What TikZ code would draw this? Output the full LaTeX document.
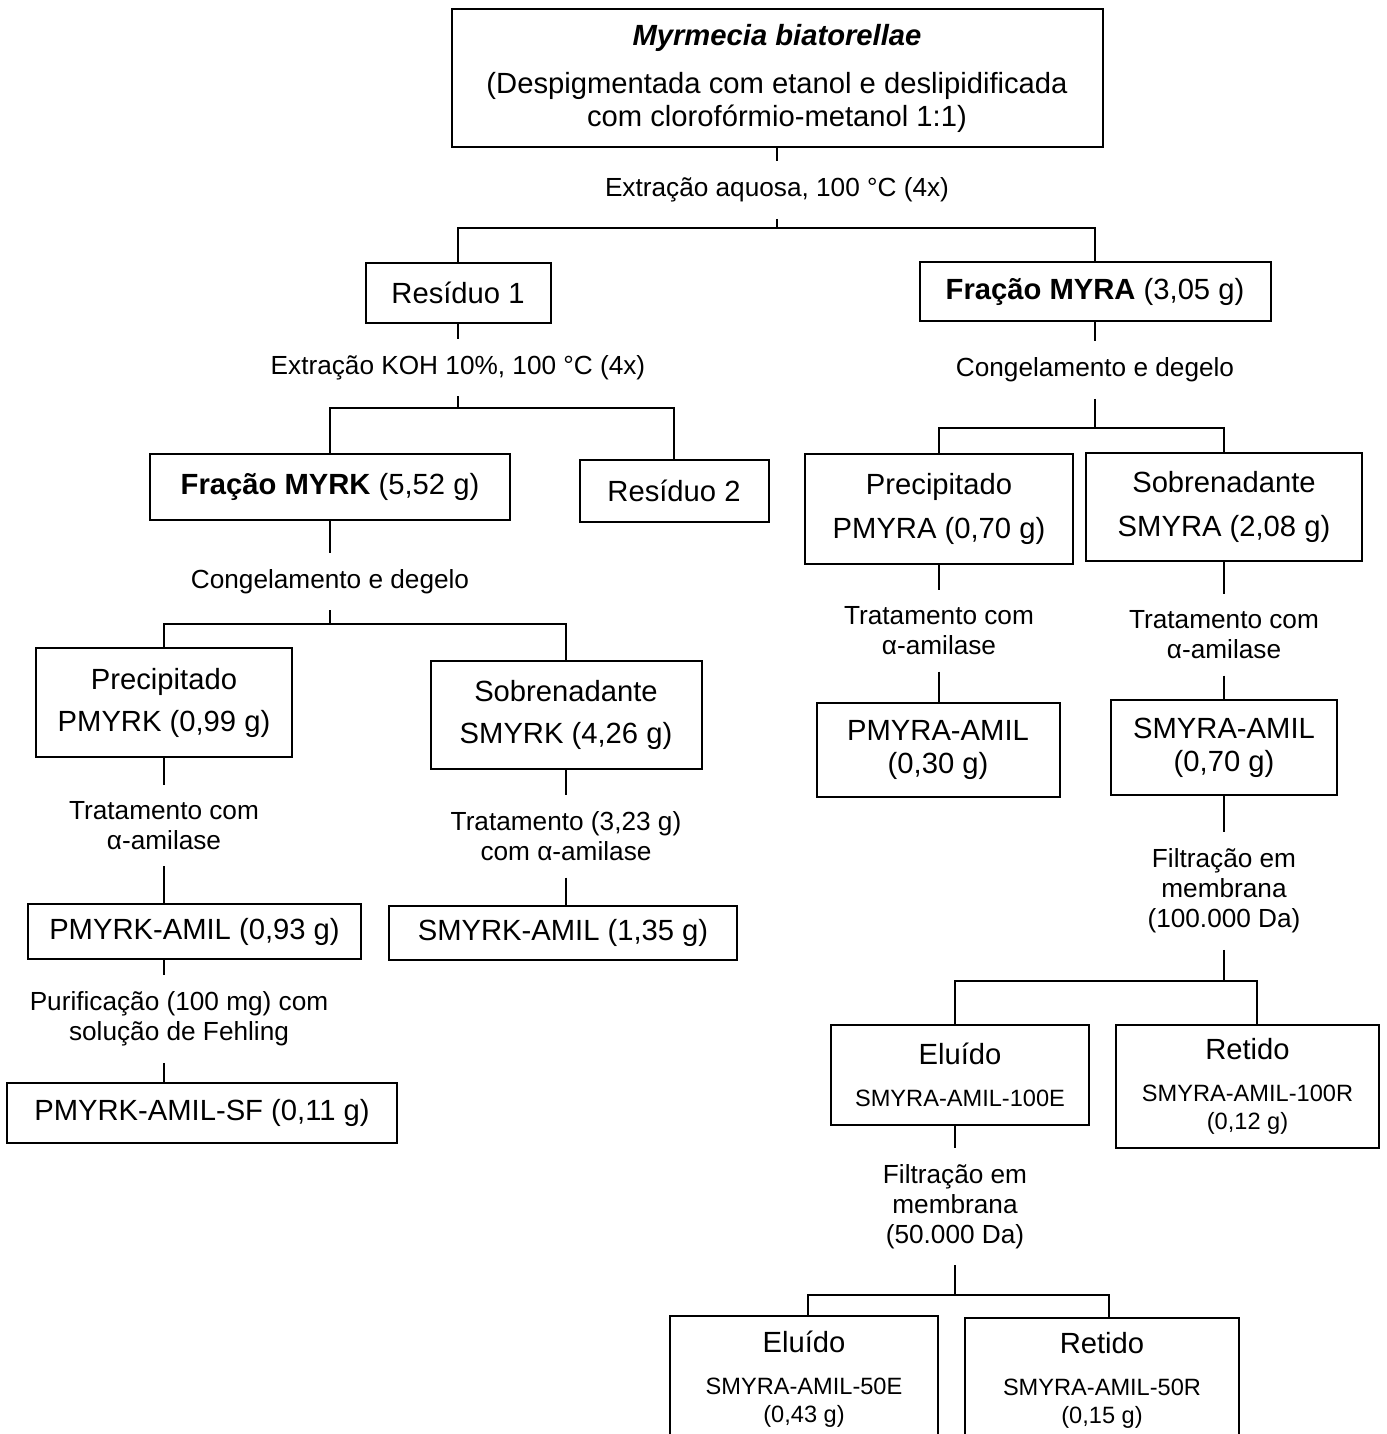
\documentclass[tikz,border=0pt]{standalone}
\usepackage{fontspec}
\setmainfont{Liberation Sans}
\newcommand{\tamA}{\fontsize{14.6}{16.5}\selectfont}
\newcommand{\tamB}{\fontsize{13.1}{15}\selectfont}
\newcommand{\tamC}{\fontsize{11.8}{14}\selectfont}

\begin{document}
\begin{tikzpicture}[
		x=0.5pt, y=-0.5pt,
		line width=1pt,
		caixa/.style={draw, rectangle, align=center, inner sep=0pt, font=\tamA},
		menor/.style={caixa, font=\tamC},
		rotulo/.style={align=center, inner xsep=1pt, inner ysep=7.8pt, font=\tamB},
		tam/.style 2 args={minimum width=#1*0.5pt, minimum height=#2*0.5pt}
		]
		\clip (0,0) rectangle (1386,1434);
		
		% material de partida
		\node[caixa, tam={651}{138}] (topo) at (777,78) {{\bfseries\itshape Myrmecia biatorellae}\\[7.5pt]
			(Despigmentada com etanol e deslipidificada\\ com clorofórmio-metanol 1:1)};
		\node[rotulo] (rotA) at (777,190) {Extração aquosa, 100 °C (4x)};
		\coordinate (bifA) at (777,228);
		
		\node[caixa, tam={185}{60}] (res1) at (458,293) {Resíduo 1};
		\node[caixa, tam={351}{59}] (myra) at (1095,291.5) {\textbf{Fração MYRA} (3,05 g)};
		
		% ramo KOH
		\node[rotulo] (rotK) at (458,367.5) {Extração KOH 10\%, 100 °C (4x)};
		\coordinate (bifB) at (458,408);
		\node[caixa, tam={360}{66}] (myrk) at (330,487) {\textbf{Fração MYRK} (5,52 g)};
		\node[caixa, tam={189}{62}] (res2) at (674,491) {Resíduo 2};
		
		\node[rotulo] (rotCK) at (330,581.5) {Congelamento e degelo};
		\coordinate (bifC) at (330,624);
		\node[caixa, tam={256}{109}] (pmyrk) at (164,702.5) {Precipitado\\[4.5pt] PMYRK (0,99 g)};
		\node[caixa, tam={271}{108}] (smyrk) at (566,715) {Sobrenadante\\[4.5pt] SMYRK (4,26 g)};
		
		\node[rotulo] (rotPK) at (164,825.5) {Tratamento com\\ α-amilase};
		\node[caixa, tam={333}{55}] (pmyrkamil) at (194.5,931.5) {PMYRK-AMIL (0,93 g)};
		\node[rotulo] (rotPur) at (179,1019) {Purificação (100 mg) com\\ solução de Fehling};
		\node[caixa, tam={390}{60}] (sf) at (202,1113) {PMYRK-AMIL-SF (0,11 g)};
		
		\node[rotulo] (rotSK) at (566,836.5) {Tratamento (3,23 g)\\ com α-amilase};
		\node[caixa, tam={348}{54}] (smyrkamil) at (563,933) {SMYRK-AMIL (1,35 g)};
		
		% ramo aquoso
		\node[rotulo] (rotCA) at (1095,370) {Congelamento e degelo};
		\coordinate (bifE) at (1095,428);
		\node[caixa, tam={268}{110}] (pmyra) at (939,509) {Precipitado\\[5.5pt] PMYRA (0,70 g)};
		\node[caixa, tam={276}{108}] (smyra) at (1224,507) {Sobrenadante\\[5.5pt] SMYRA (2,08 g)};
		
		\node[rotulo] (rotPA) at (939,631) {Tratamento com\\ α-amilase};
		\node[caixa, tam={243}{94}] (pmyraamil) at (938,750) {PMYRA-AMIL\\ (0,30 g)};
		\node[rotulo] (rotSA) at (1224,635) {Tratamento com\\ α-amilase};
		\node[caixa, tam={226}{95}] (smyraamil) at (1224,747.5) {SMYRA-AMIL\\ (0,70 g)};
		
		\node[rotulo] (rotF1) at (1224,891) {Filtração em\\ membrana\\ (100.000 Da)};
		\coordinate (bifF) at (1224,981);
		\node[menor, tam={258}{100}] (elu1) at (960,1075) {{\tamA Eluído}\\[7pt] SMYRA-AMIL-100E};
		\node[menor, tam={263}{123}] (ret1) at (1247.5,1086.5) {{\tamA Retido}\\[7pt] SMYRA-AMIL-100R\\ (0,12 g)};
		
		\node[rotulo] (rotF2) at (955,1206.5) {Filtração em\\ membrana\\ (50.000 Da)};
		\coordinate (bifG) at (955,1295);
		\node[menor, tam={268}{126}] (elu2) at (804,1379) {{\tamA Eluído}\\[7pt] SMYRA-AMIL-50E\\ (0,43 g)};
		\node[menor, tam={274}{124}] (ret2) at (1102,1380) {{\tamA Retido}\\[7pt] SMYRA-AMIL-50R\\ (0,15 g)};
		
		% ligacoes
		\draw (topo.south) -- (rotA.north);
		\draw (rotA.south) -- (bifA);
		\draw (res1.north) |- (bifA) -| (myra.north);
		
		\draw (res1.south) -- (rotK.north);
		\draw (rotK.south) -- (bifB);
		\draw (myrk.north) |- (bifB) -| (res2.north);
		\draw (myrk.south) -- (rotCK.north);
		\draw (rotCK.south) -- (bifC);
		\draw (pmyrk.north) |- (bifC) -| (smyrk.north);
		\draw (pmyrk.south) -- (rotPK.north);
		\draw (rotPK.south) -- (rotPK.south |- pmyrkamil.north);
		\draw (pmyrkamil.south -| rotPK) -- (rotPur.north -| rotPK);
		\draw (rotPur.south -| rotPK) -- (sf.north -| rotPK);
		\draw (smyrk.south) -- (rotSK.north);
		\draw (rotSK.south) -- (rotSK.south |- smyrkamil.north);
		
		\draw (myra.south) -- (rotCA.north);
		\draw (rotCA.south) -- (bifE);
		\draw (pmyra.north) |- (bifE) -| (smyra.north);
		\draw (pmyra.south) -- (rotPA.north);
		\draw (rotPA.south) -- (rotPA.south |- pmyraamil.north);
		\draw (smyra.south) -- (rotSA.north);
		\draw (rotSA.south) -- (smyraamil.north);
		\draw (smyraamil.south) -- (rotF1.north);
		\draw (rotF1.south) -- (bifF);
		\draw ([xshift=-2.5pt]elu1.north) |- (bifF) -| ([xshift=4.75pt]ret1.north);
		\draw ([xshift=-2.5pt]elu1.south) -- (rotF2.north);
		\draw (rotF2.south) -- (bifG);
		\draw ([xshift=2pt]elu2.north) |- (bifG) -| ([xshift=3.5pt]ret2.north);
	\end{tikzpicture}
\end{document}
